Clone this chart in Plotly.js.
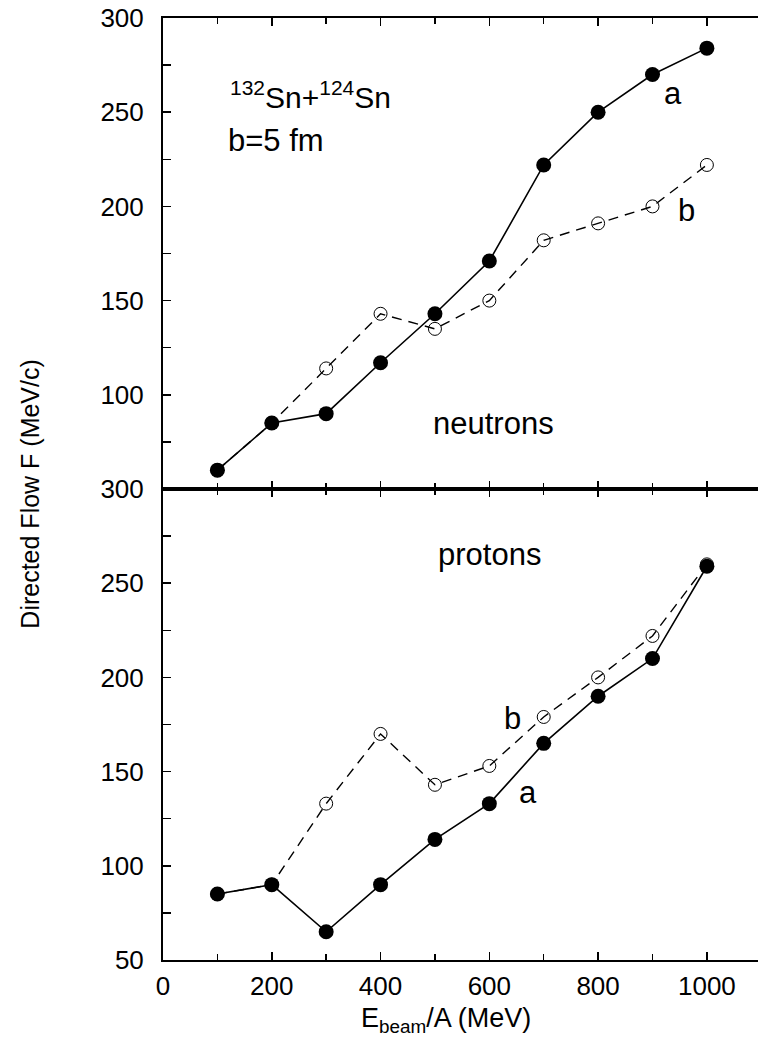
<!DOCTYPE html>
<html>
<head>
<meta charset="utf-8">
<script src="https://cdn.plot.ly/plotly-3.0.1.min.js"></script>
<style>
  html, body { margin: 0; padding: 0; background: #fff; overflow: hidden; }
  #chart { width: 758px; height: 1051px; }
</style>
</head>
<body>
<div id="chart"></div>
<script>
// ---- data ----
const energies = [100, 200, 300, 400, 500, 600, 700, 800, 900, 1000];
// neutrons (top panel)
const neutronsA = [60, 85, 90, 117, 143, 171, 222, 250, 270, 284];
const neutronsB = [60, 85, 114, 143, 135, 150, 182, 191, 200, 222];
// protons (bottom panel)
const protonsA = [85, 90, 65, 90, 114, 133, 165, 190, 210, 259];
const protonsB = [85, 90, 133, 170, 143, 153, 179, 200, 222, 260];
// tick values
const xTickVals = [0, 200, 400, 600, 800, 1000];
const xMinorVals = [100, 300, 500, 700, 900];
const yTopTickVals = [100, 150, 200, 250, 300];
const yBotTickVals = [50, 100, 150, 200, 250, 300];
const yMinorVals = [75, 125, 175, 225, 275];

const FONT = '"Liberation Sans", Arial, Helvetica, sans-serif';

function openTrace(x, y, xa, ya) {
  return {
    x: x, y: y, xaxis: xa, yaxis: ya, type: 'scatter', mode: 'lines+markers',
    line: { color: 'black', width: 1.4, dash: '10px,7px' },
    marker: { symbol: 'circle-open', size: 13, color: 'black', line: { width: 1 } },
    showlegend: false, hoverinfo: 'skip'
  };
}
function filledTrace(x, y, xa, ya) {
  return {
    x: x, y: y, xaxis: xa, yaxis: ya, type: 'scatter', mode: 'lines+markers',
    line: { color: 'black', width: 1.6 },
    marker: { symbol: 'circle', size: 15, color: 'black', line: { width: 0 } },
    showlegend: false, hoverinfo: 'skip'
  };
}

const traces = [
  openTrace(energies, neutronsB, 'x', 'y'),
  filledTrace(energies, neutronsA, 'x', 'y'),
  openTrace(energies, protonsB, 'x2', 'y2'),
  filledTrace(energies, protonsA, 'x2', 'y2')
];

const TICK = 26;
const xBase = {
  range: [0, 1094], showgrid: false, zeroline: false,
  showline: true, linecolor: 'black', linewidth: 2, mirror: 'ticks',
  ticks: 'inside', ticklen: 8, tickwidth: 1.5, tickcolor: 'black',
  tickmode: 'array', tickvals: xTickVals,
  minor: { tickmode: 'array', tickvals: xMinorVals, ticks: 'inside', ticklen: 6, tickwidth: 1.5, tickcolor: 'black', showgrid: false },
  tickfont: { family: FONT, size: TICK, color: 'black' },
  ticklabelstandoff: 2
};
const yBase = {
  range: [50, 300], showgrid: false, zeroline: false,
  showline: true, linecolor: 'black', linewidth: 2, mirror: false,
  ticks: 'inside', ticklen: 8, tickwidth: 1.5, tickcolor: 'black',
  tickmode: 'array',
  minor: { tickmode: 'array', tickvals: yMinorVals, ticks: 'inside', ticklen: 8, tickwidth: 1.5, tickcolor: 'black', showgrid: false },
  tickfont: { family: FONT, size: TICK, color: 'black' },
  ticklabelstandoff: 12
};

const ANN = 31;
const layout = {
  width: 758, height: 1051,
  margin: { l: 163, r: 0, t: 18, b: 91, pad: 0 },
  paper_bgcolor: 'white', plot_bgcolor: 'white',
  font: { family: FONT, color: 'black' },
  xaxis: Object.assign({}, xBase, { anchor: 'y', showticklabels: false }),
  xaxis2: Object.assign({}, xBase, { anchor: 'y2', matches: 'x', showticklabels: true }),
  yaxis: Object.assign({}, yBase, { domain: [0.5, 1], anchor: 'x', tickvals: yTopTickVals }),
  yaxis2: Object.assign({}, yBase, { domain: [0, 0.5], anchor: 'x2', tickvals: yBotTickVals }),
  annotations: [
    { xref: 'x', yref: 'y', x: 119, y: 259, xanchor: 'left', yanchor: 'middle', showarrow: false,
      text: '<sup>132</sup>Sn+<sup>124</sup>Sn', font: { family: FONT, size: 30, color: 'black' } },
    { xref: 'x', yref: 'y', x: 115, y: 235, xanchor: 'left', yanchor: 'middle', showarrow: false,
      text: 'b=5 fm', font: { family: FONT, size: ANN, color: 'black' } },
    { xref: 'x', yref: 'y', x: 937, y: 260, xanchor: 'center', yanchor: 'middle', showarrow: false,
      text: 'a', font: { family: FONT, size: ANN, color: 'black' } },
    { xref: 'x', yref: 'y', x: 963, y: 198, xanchor: 'center', yanchor: 'middle', showarrow: false,
      text: 'b', font: { family: FONT, size: ANN, color: 'black' } },
    { xref: 'x', yref: 'y', x: 608, y: 85, xanchor: 'center', yanchor: 'middle', showarrow: false,
      text: 'neutrons', font: { family: FONT, size: ANN, color: 'black' } },
    { xref: 'x2', yref: 'y2', x: 600, y: 265, xanchor: 'center', yanchor: 'middle', showarrow: false,
      text: 'protons', font: { family: FONT, size: ANN, color: 'black' } },
    { xref: 'x2', yref: 'y2', x: 643, y: 178, xanchor: 'center', yanchor: 'middle', showarrow: false,
      text: 'b', font: { family: FONT, size: ANN, color: 'black' } },
    { xref: 'x2', yref: 'y2', x: 671, y: 139, xanchor: 'center', yanchor: 'middle', showarrow: false,
      text: 'a', font: { family: FONT, size: ANN, color: 'black' } },
    // axis titles
    { xref: 'paper', yref: 'paper', x: 0.4756, y: -0.0638, xanchor: 'center', yanchor: 'middle', showarrow: false,
      text: 'E<sub>beam</sub>/A (MeV)', font: { family: FONT, size: 27, color: 'black' } },
    { xref: 'paper', yref: 'paper', x: -0.2235, y: 0.494, xanchor: 'center', yanchor: 'middle', showarrow: false,
      textangle: -90, text: 'Directed Flow F (MeV/c)', font: { family: FONT, size: 25, color: 'black' } }
  ]
};

Plotly.newPlot('chart', traces, layout, { staticPlot: true, displayModeBar: false });
</script>
</body>
</html>
